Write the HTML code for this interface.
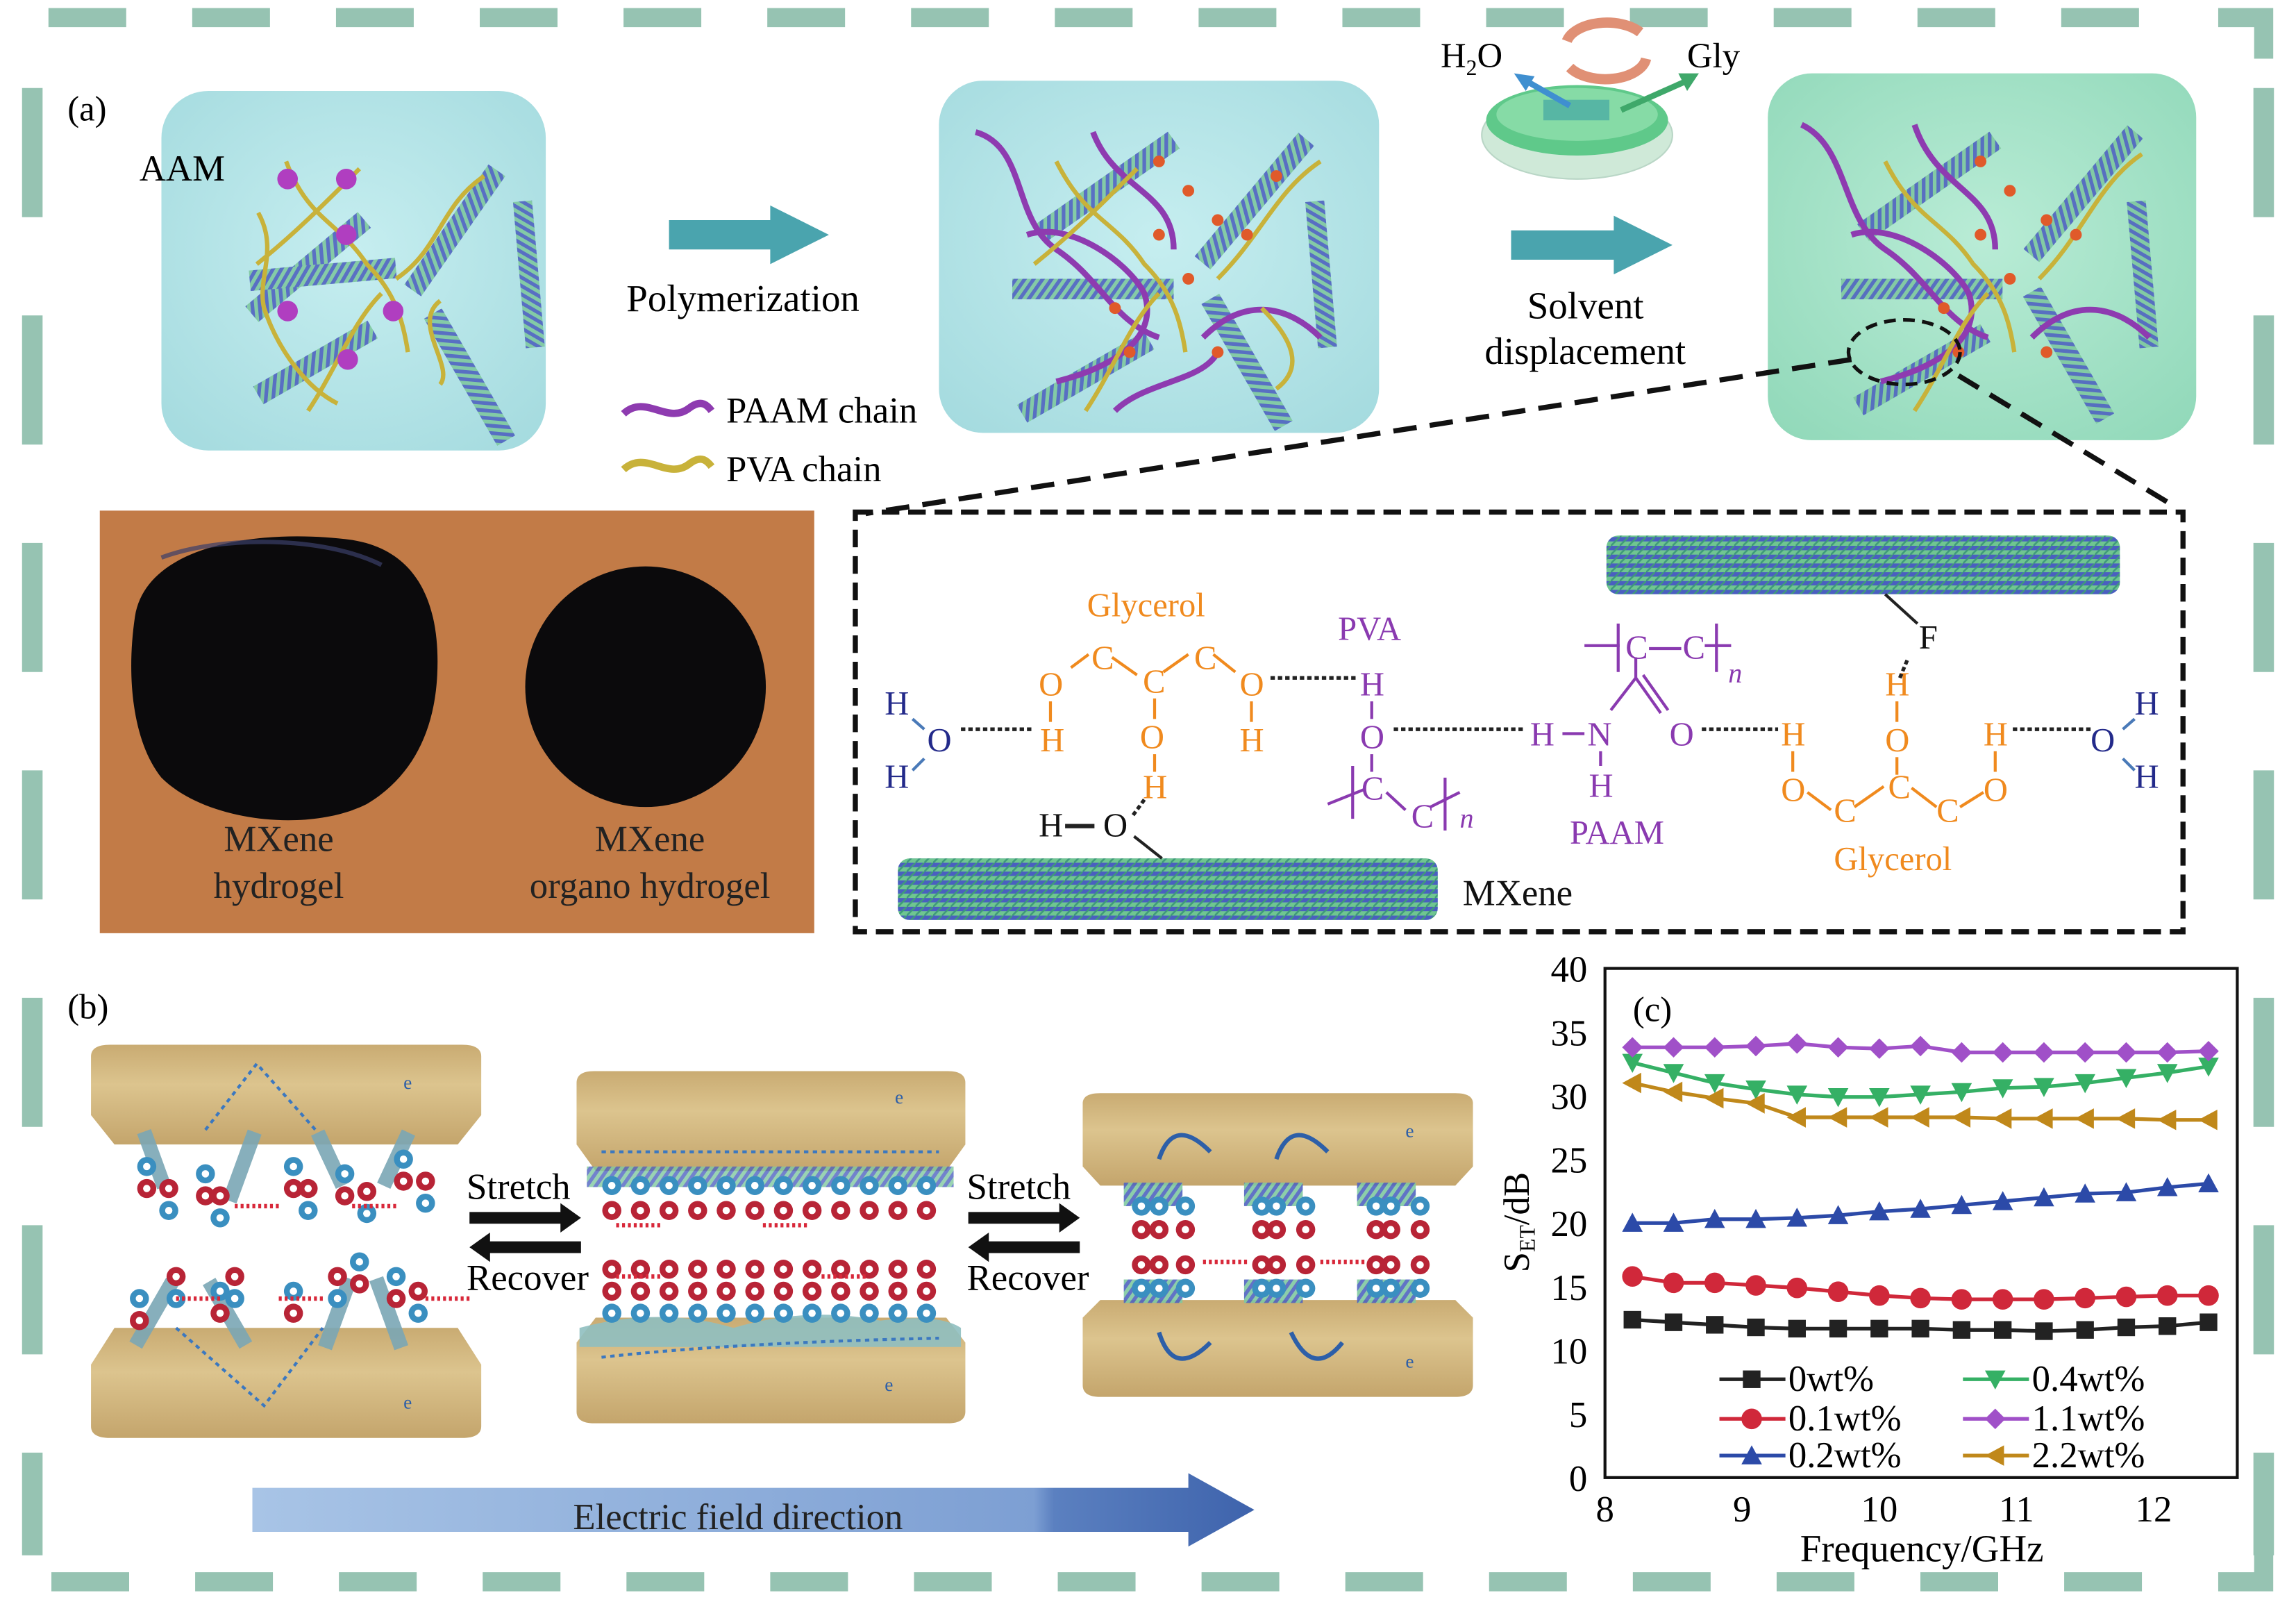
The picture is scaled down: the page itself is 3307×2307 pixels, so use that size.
<!DOCTYPE html>
<html><head><meta charset="utf-8">
<style>
html,body{margin:0;padding:0;background:#fff;}
svg{display:block;}
text{font-family:"Liberation Serif",serif;}
</style></head>
<body>
<svg id="s" xmlns="http://www.w3.org/2000/svg" width="3307" height="2307" viewBox="0 0 1565 1091.8">
<defs>
<pattern id="mx" width="5" height="5" patternUnits="userSpaceOnUse" patternTransform="rotate(35)">
<rect width="5" height="5" fill="#7fc8a0"/><rect width="2.5" height="5" fill="#4f63c0"/>
</pattern>
<pattern id="mx2" width="6" height="6" patternUnits="userSpaceOnUse">
<rect width="6" height="6" fill="#6fc690"/><rect width="6" height="3" fill="#4a5fc0"/><path d="M0 6 L6 0" stroke="#3f9a7a" stroke-width="1.2"/>
</pattern>
<linearGradient id="ef" x1="0" x2="1"><stop offset="0" stop-color="#a8c4e6"/><stop offset="0.78" stop-color="#7d9fd3"/><stop offset="0.8" stop-color="#5b80c0"/><stop offset="1" stop-color="#3e63ac"/></linearGradient>
<linearGradient id="plate" x1="0" y1="0" x2="0" y2="1"><stop offset="0" stop-color="#c9ab72"/><stop offset="0.4" stop-color="#dcc48e"/><stop offset="1" stop-color="#c4a56c"/></linearGradient>
<radialGradient id="cube1" cx="0.5" cy="0.45" r="0.7"><stop offset="0" stop-color="#c6eef0"/><stop offset="1" stop-color="#a5dbdf"/></radialGradient>
<radialGradient id="cube3" cx="0.5" cy="0.45" r="0.7"><stop offset="0" stop-color="#b9ecd6"/><stop offset="1" stop-color="#92d9ba"/></radialGradient>
</defs>

<g stroke="#96c3b2" fill="none">
<line x1="33" y1="12" x2="1500" y2="12" stroke-width="13" stroke-dasharray="53 45"/>
<line x1="22" y1="60" x2="22" y2="1060" stroke-width="14" stroke-dasharray="88 67"/>
<line x1="1543" y1="60" x2="1543" y2="1060" stroke-width="14" stroke-dasharray="88 67"/>
<line x1="35" y1="1078" x2="1500" y2="1078" stroke-width="13" stroke-dasharray="53 45"/>
<path d="M1512 12 H1543 V40" stroke-width="13"/>
<path d="M1512 1078 H1543 V1055" stroke-width="13"/>
</g>

<text x="46" y="82" font-size="24">(a)</text>
<rect x="110" y="62" width="262" height="245" rx="32" fill="url(#cube1)"/>
<rect x="640" y="55" width="300" height="240" rx="30" fill="url(#cube1)"/>
<rect x="1205" y="50" width="292" height="250" rx="30" fill="url(#cube3)"/>
<g>
<g fill="url(#mx)" opacity="0.9">
<rect x="160" y="175" width="100" height="14" transform="rotate(-40 210 182)"/>
<rect x="170" y="180" width="100" height="14" transform="rotate(-5 220 187)"/>
<rect x="260" y="150" width="100" height="14" transform="rotate(-55 310 157)"/>
<rect x="310" y="180" width="100" height="13" transform="rotate(85 360 187)"/>
<rect x="170" y="240" width="90" height="14" transform="rotate(-30 215 247)"/>
<rect x="270" y="250" width="100" height="14" transform="rotate(60 320 257)"/>
</g>
<g stroke="#c8b23a" stroke-width="3" fill="none">
<path d="M195 110 C210 150 230 150 250 180 C270 200 275 220 278 240"/>
<path d="M176 145 C190 170 175 190 180 210 C190 240 210 265 230 275"/>
<path d="M245 115 C220 140 200 160 175 180"/>
<path d="M330 120 C300 140 300 170 270 190"/>
<path d="M260 200 C240 220 230 250 210 280"/>
<path d="M300 205 C280 220 310 250 300 262"/>
</g>
<g fill="#b03ec0">
<circle cx="196" cy="122" r="7"/><circle cx="236" cy="122" r="7"/><circle cx="236" cy="160" r="7"/><circle cx="196" cy="212" r="7"/><circle cx="268" cy="212" r="7"/><circle cx="237" cy="245" r="7"/>
</g>
</g>
<g>
<g fill="url(#mx)" opacity="0.9">
<rect x="700" y="120" width="110" height="14" transform="rotate(-35 755 127)"/>
<rect x="690" y="190" width="110" height="14"/>
<rect x="800" y="130" width="110" height="14" transform="rotate(-50 855 137)"/>
<rect x="850" y="180" width="100" height="13" transform="rotate(85 900 187)"/>
<rect x="690" y="250" width="100" height="14" transform="rotate(-30 740 257)"/>
<rect x="800" y="240" width="100" height="14" transform="rotate(60 850 247)"/>
</g>
<g stroke="#8e3bb0" stroke-width="4" fill="none">
<path d="M665 90 C700 100 690 150 720 170 C750 190 760 220 790 230"/>
<path d="M745 90 C760 130 800 130 800 170"/>
<path d="M700 160 C730 150 770 180 780 200 C790 230 760 250 720 260"/>
<path d="M820 230 C850 200 880 210 900 230"/>
<path d="M760 280 C780 260 820 260 830 240"/>
</g>
<g stroke="#c8b23a" stroke-width="3" fill="none">
<path d="M720 110 C740 150 760 150 780 180 C800 200 805 220 808 240"/>
<path d="M775 115 C750 140 730 160 705 180"/>
<path d="M900 110 C870 130 860 160 830 190"/>
<path d="M790 200 C770 220 760 250 740 280"/>
<path d="M860 210 C880 230 890 250 870 265"/>
</g>
<g fill="#e05a2a">
<circle cx="790" cy="110" r="4"/><circle cx="810" cy="130" r="4"/><circle cx="830" cy="150" r="4"/><circle cx="850" cy="160" r="4"/><circle cx="790" cy="160" r="4"/><circle cx="810" cy="190" r="4"/><circle cx="760" cy="210" r="4"/><circle cx="770" cy="240" r="4"/><circle cx="830" cy="240" r="4"/><circle cx="870" cy="120" r="4"/>
</g>
</g>
<g>
<g fill="url(#mx)" opacity="0.9">
<rect x="1260" y="120" width="110" height="14" transform="rotate(-35 1315 127)"/>
<rect x="1255" y="190" width="110" height="14"/>
<rect x="1365" y="125" width="110" height="14" transform="rotate(-50 1420 132)"/>
<rect x="1410" y="180" width="100" height="13" transform="rotate(85 1460 187)"/>
<rect x="1260" y="245" width="100" height="14" transform="rotate(-30 1310 252)"/>
<rect x="1360" y="235" width="100" height="14" transform="rotate(60 1410 242)"/>
</g>
<g stroke="#8e3bb0" stroke-width="4" fill="none">
<path d="M1228 85 C1260 100 1255 150 1285 170 C1315 190 1325 220 1355 230"/>
<path d="M1305 85 C1320 130 1360 130 1360 170"/>
<path d="M1262 160 C1292 150 1332 180 1342 200 C1352 230 1322 250 1282 260"/>
<path d="M1385 230 C1415 200 1445 210 1465 230"/>
</g>
<g stroke="#c8b23a" stroke-width="3" fill="none">
<path d="M1285 110 C1305 150 1325 150 1345 180 C1365 200 1370 220 1373 240"/>
<path d="M1460 105 C1430 125 1420 160 1390 190"/>
<path d="M1355 200 C1335 220 1325 250 1305 280"/>
</g>
<g fill="#e05a2a">
<circle cx="1350" cy="110" r="4"/><circle cx="1370" cy="130" r="4"/><circle cx="1395" cy="150" r="4"/><circle cx="1415" cy="160" r="4"/><circle cx="1350" cy="160" r="4"/><circle cx="1370" cy="190" r="4"/><circle cx="1325" cy="210" r="4"/><circle cx="1335" cy="240" r="4"/><circle cx="1395" cy="240" r="4"/>
</g>
<ellipse cx="1298" cy="240" rx="38" ry="22" fill="none" stroke="#111" stroke-width="2.5" stroke-dasharray="8 5"/>
</g>
<text x="95" y="123" font-size="25">AAM</text>
<path d="M456 150 H525 V140 L565 160 L525 180 V170 H456 Z" fill="#4aa4ae"/>
<path d="M1030 157 H1100 V147 L1140 167 L1100 187 V177 H1030 Z" fill="#4aa4ae"/>
<text x="427" y="212" font-size="26">Polymerization</text>
<text x="1041" y="217" font-size="26">Solvent</text>
<text x="1012" y="248" font-size="26">displacement</text>
<ellipse cx="1075" cy="92" rx="65" ry="30" fill="#cfe9d8" stroke="#b9d6c6"/>
<ellipse cx="1075" cy="82" rx="62" ry="24" fill="#5fc98a"/>
<ellipse cx="1075" cy="78" rx="55" ry="18" fill="#86dba6"/>
<rect x="1052" y="68" width="45" height="14" fill="#57b6a4"/>
<path d="M1070 72 L1040 55" stroke="#3f8fd0" stroke-width="4"/><path d="M1032 50 L1046 52 L1040 62 Z" fill="#3f8fd0"/>
<path d="M1105 75 L1150 55" stroke="#3fa86a" stroke-width="4"/><path d="M1158 50 L1144 50 L1150 62 Z" fill="#3fa86a"/>
<path d="M1068 28 A28 16 0 0 1 1118 22" stroke="#e09075" stroke-width="7" fill="none"/>
<path d="M1122 40 A28 16 0 0 1 1070 46" stroke="#e09075" stroke-width="7" fill="none"/>
<text x="982" y="46" font-size="24">H<tspan font-size="15" dy="5">2</tspan><tspan dy="-5">O</tspan></text>
<text x="1150" y="46" font-size="24">Gly</text>
<path d="M425 282 C440 268 455 290 470 278 C478 272 482 276 485 280" stroke="#8e3bb0" stroke-width="5" fill="none"/>
<path d="M425 320 C440 306 455 328 470 316 C478 310 482 314 485 318" stroke="#c8b23a" stroke-width="5" fill="none"/>
<text x="495" y="288" font-size="25">PAAM chain</text>
<text x="495" y="328" font-size="25">PVA chain</text>
<line x1="1262" y1="245" x2="590" y2="350" stroke="#111" stroke-width="3.5" stroke-dasharray="16 9"/>
<line x1="1335" y1="256" x2="1482" y2="345" stroke="#111" stroke-width="3.5" stroke-dasharray="16 9"/>

<rect x="68" y="348" width="487" height="288" fill="#c27b47"/>
<path d="M92 420 C100 370 180 360 240 368 C290 376 300 420 298 460 C296 500 280 530 250 548 C210 568 140 560 110 530 C90 505 86 460 92 420 Z" fill="#0b0a0c"/>
<path d="M110 380 C150 365 220 365 260 385" stroke="#3a3f6a" stroke-width="3" fill="none" opacity="0.7"/>
<circle cx="440" cy="468" r="82" fill="#0b0a0c"/>
<g font-size="25" fill="#222" text-anchor="middle">
<text x="190" y="580">MXene</text><text x="190" y="612">hydrogel</text>
<text x="443" y="580">MXene</text><text x="443" y="612">organo hydrogel</text>
</g>

<rect x="583" y="349" width="905" height="286" fill="none" stroke="#111" stroke-width="3.5" stroke-dasharray="12 6"/>
<rect x="1095" y="365" width="350" height="40" fill="url(#mx2)" rx="8"/>
<rect x="612" y="585" width="368" height="42" fill="url(#mx2)" rx="8"/>
<g font-size="23">
<g fill="#f08a1e">
<text x="741" y="420">Glycerol</text>
<text x="744" y="456">C</text><text x="814" y="456">C</text><text x="779" y="472">C</text>
<text x="708" y="474">O</text><text x="845" y="474">O</text>
<text x="709" y="512">H</text><text x="845" y="512">H</text><text x="777" y="510">O</text><text x="779" y="544">H</text>
<text x="1214" y="508">H</text><text x="1214" y="546">O</text><text x="1250" y="560">C</text><text x="1287" y="544">C</text><text x="1320" y="560">C</text><text x="1352" y="546">O</text><text x="1352" y="508">H</text><text x="1285" y="512">O</text><text x="1285" y="474">H</text>
<text x="1250" y="593">Glycerol</text>
</g>
<g stroke="#f08a1e" stroke-width="2">
<line x1="730" y1="455" x2="742" y2="446"/><line x1="758" y1="448" x2="775" y2="460"/><line x1="793" y1="458" x2="810" y2="446"/><line x1="827" y1="446" x2="842" y2="458"/>
<line x1="716" y1="478" x2="716" y2="492"/><line x1="853" y1="478" x2="853" y2="492"/><line x1="787" y1="476" x2="787" y2="490"/><line x1="787" y1="514" x2="787" y2="526"/>
<line x1="1222" y1="512" x2="1222" y2="526"/><line x1="1232" y1="540" x2="1248" y2="552"/><line x1="1264" y1="550" x2="1284" y2="536"/><line x1="1303" y1="537" x2="1320" y2="550"/><line x1="1336" y1="550" x2="1352" y2="540"/><line x1="1360" y1="512" x2="1360" y2="526"/><line x1="1293" y1="516" x2="1293" y2="528"/><line x1="1293" y1="478" x2="1293" y2="492"/>
</g>
<g fill="#8a3ab0">
<text x="912" y="436">PVA</text><text x="927" y="474">H</text><text x="927" y="510">O</text><text x="928" y="545">C</text><text x="962" y="564">C</text><text x="995" y="564" font-style="italic" font-size="19">n</text>
<text x="1043" y="508">H</text><text x="1082" y="508">N</text><text x="1138" y="508">O</text><text x="1083" y="543">H</text>
<text x="1108" y="449">C</text><text x="1147" y="449">C</text><text x="1178" y="465" font-style="italic" font-size="19">n</text>
<text x="1070" y="575">PAAM</text>
</g>
<g stroke="#8a3ab0" stroke-width="2" fill="none">
<line x1="935" y1="478" x2="935" y2="490"/><line x1="935" y1="514" x2="935" y2="526"/><line x1="945" y1="540" x2="958" y2="552"/>
<line x1="922" y1="522" x2="922" y2="558"/><line x1="905" y1="548" x2="930" y2="538"/><line x1="985" y1="530" x2="985" y2="566"/><line x1="975" y1="550" x2="995" y2="540"/>
<line x1="1065" y1="500" x2="1080" y2="500"/><line x1="1091" y1="512" x2="1091" y2="522"/>
<line x1="1098" y1="484" x2="1115" y2="462"/><line x1="1115" y1="462" x2="1132" y2="486"/><line x1="1120" y1="460" x2="1137" y2="484"/><line x1="1115" y1="448" x2="1115" y2="462"/>
<line x1="1124" y1="442" x2="1146" y2="442"/><line x1="1080" y1="440" x2="1104" y2="440"/><line x1="1162" y1="440" x2="1180" y2="440"/><line x1="1103" y1="425" x2="1103" y2="458"/><line x1="1170" y1="425" x2="1170" y2="458"/>
</g>
<g fill="#232a8a">
<text x="603" y="487">H</text><text x="632" y="512">O</text><text x="603" y="537">H</text>
<text x="1455" y="487">H</text><text x="1425" y="512">O</text><text x="1455" y="537">H</text>
</g>
<g fill="#111"><text x="1308" y="442">F</text><text x="708" y="570">H</text><text x="752" y="570">O</text><text x="997" y="617" font-size="25">MXene</text></g>
<g stroke="#4a7ab8" stroke-width="2"><line x1="622" y1="490" x2="630" y2="497"/><line x1="622" y1="525" x2="630" y2="517"/><line x1="1455" y1="490" x2="1447" y2="497"/><line x1="1455" y1="525" x2="1447" y2="517"/></g>
<g stroke="#222" stroke-width="2.5" stroke-dasharray="3 2" fill="none">
<line x1="655" y1="497" x2="705" y2="497"/><line x1="866" y1="462" x2="925" y2="462"/><line x1="950" y1="497" x2="1040" y2="497"/><line x1="1160" y1="497" x2="1212" y2="497"/><line x1="1372" y1="497" x2="1425" y2="497"/>
<line x1="1300" y1="450" x2="1295" y2="462"/><line x1="780" y1="545" x2="772" y2="556"/>
</g>
<line x1="1285" y1="405" x2="1307" y2="425" stroke="#222" stroke-width="2"/>
<line x1="726" y1="563" x2="746" y2="563" stroke="#222" stroke-width="3"/>
<line x1="773" y1="570" x2="792" y2="585" stroke="#222" stroke-width="2"/>
</g>

<text x="46" y="694" font-size="24">(b)</text>
<g>
<path d="M62 720 Q62 712 75 712 H315 Q328 712 328 720 V760 L312 780 H78 L62 760 Z" fill="url(#plate)"/>
<path d="M62 930 L78 905 H312 L328 930 V972 Q328 980 315 980 H75 Q62 980 62 972 Z" fill="url(#plate)"/>
<path d="M393 738 Q393 730 405 730 H646 Q658 730 658 738 V780 L645 798 H406 L393 780 Z" fill="url(#plate)"/>
<path d="M393 915 L406 898 H645 L658 915 V962 Q658 970 646 970 H405 Q393 970 393 962 Z" fill="url(#plate)"/>
<rect x="400" y="795" width="250" height="14" fill="url(#mx)" opacity="0.8"/>
<path d="M395 905 Q450 890 500 905 Q550 890 600 900 Q640 895 655 905 V918 H395 Z" fill="#8fbfc0" opacity="0.9"/>
<path d="M738 752 Q738 745 750 745 H992 Q1004 745 1004 752 V795 L992 808 H750 L738 795 Z" fill="url(#plate)"/>
<path d="M738 898 L750 886 H992 L1004 898 V944 Q1004 952 992 952 H750 Q738 952 738 944 Z" fill="url(#plate)"/>
<g fill="url(#mx)" opacity="0.9"><rect x="766" y="806" width="40" height="16"/><rect x="848" y="806" width="40" height="16"/><rect x="925" y="806" width="40" height="16"/><rect x="766" y="872" width="40" height="16"/><rect x="848" y="872" width="40" height="16"/><rect x="925" y="872" width="40" height="16"/></g>
<g stroke="#2d5fa8" stroke-width="3" fill="none"><path d="M790 790 Q800 760 825 785"/><path d="M870 790 Q880 760 905 785"/><path d="M790 908 Q800 940 825 915"/><path d="M880 908 Q895 940 915 915"/></g>
<g fill="#7ba7b5" opacity="0.9"><rect x="100" y="770" width="10" height="40" transform="rotate(-20 105 790)"/><rect x="160" y="770" width="10" height="50" transform="rotate(20 165 795)"/><rect x="220" y="770" width="10" height="40" transform="rotate(-25 225 790)"/><rect x="265" y="770" width="10" height="40" transform="rotate(25 270 790)"/>
<rect x="100" y="870" width="10" height="50" transform="rotate(30 105 895)"/><rect x="150" y="870" width="10" height="50" transform="rotate(-30 155 895)"/><rect x="225" y="870" width="10" height="50" transform="rotate(20 230 895)"/><rect x="260" y="870" width="10" height="50" transform="rotate(-20 265 895)"/></g>
<g fill="#2d5fa8" font-family="Liberation Sans,sans-serif" font-size="13"><text x="275" y="742">e</text><text x="275" y="960">e</text><text x="610" y="752">e</text><text x="603" y="948">e</text><text x="958" y="775">e</text><text x="958" y="932">e</text></g>
<g stroke="#3b78c0" stroke-width="2" stroke-dasharray="3 3" fill="none"><path d="M140 770 L175 725 L215 770"/><path d="M120 905 L180 958 L220 905"/><path d="M410 785 H640"/><path d="M410 925 Q500 915 640 912"/></g>
<g id="ions"></g>
</g>
<g font-size="25"><text x="318" y="817">Stretch</text><text x="318" y="879">Recover</text><text x="659" y="817">Stretch</text><text x="659" y="879">Recover</text></g>
<g fill="#111">
<path d="M320 826 H382 V820 L396 830 L382 840 V834 H320 Z"/><path d="M396 846 H334 V840 L320 850 L334 860 V854 H396 Z"/>
<path d="M660 826 H722 V820 L736 830 L722 840 V834 H660 Z"/><path d="M736 846 H674 V840 L660 850 L674 860 V854 H736 Z"/>
</g>
<path d="M172 1014 H810 V1004 L855 1029 L810 1054 V1044 H172 Z" fill="url(#ef)"/>
<text x="503" y="1042" font-size="25" text-anchor="middle" fill="#222">Electric field direction</text>

<rect x="1094" y="660" width="431" height="347" fill="none" stroke="#111" stroke-width="2"/>
<g font-size="25" text-anchor="end" id="yl"></g>
<g font-size="25" text-anchor="middle" id="xl"></g>
<text x="1113" y="696" font-size="24">(c)</text>
<text transform="translate(1042 833) rotate(-90)" font-size="25" text-anchor="middle">S<tspan font-size="15" dy="4">ET</tspan><tspan dy="-4">/dB</tspan></text>
<text x="1310" y="1064" font-size="26" text-anchor="middle">Frequency/GHz</text>
<g id="series"></g>
<g id="leg" font-size="25"></g>
</svg>
<script>
var NS="http://www.w3.org/2000/svg";
function el(p,t,a,txt){var e=document.createElementNS(NS,t);for(var k in a)e.setAttribute(k,a[k]);if(txt!=null)e.textContent=txt;document.getElementById(p).appendChild(e);return e;}
var X0=1094,XS=93.5,Y0=1007,YS=8.675;
for(var v=0;v<=40;v+=5)el("yl","text",{x:1082,y:Y0-v*YS+9},""+v);
for(var f=8;f<=12;f++)el("xl","text",{x:X0+(f-8)*XS,y:1037},""+f);
var data=[
["#222",[12.4,12.2,12.0,11.8,11.7,11.7,11.7,11.7,11.6,11.6,11.5,11.6,11.8,11.9,12.2],"sq","0wt%"],
["#d0283a",[15.8,15.3,15.3,15.1,14.9,14.6,14.3,14.1,14.0,14.0,14.0,14.1,14.2,14.3,14.3],"ci","0.1wt%"],
["#2c4aa8",[20,20,20.3,20.3,20.4,20.6,20.9,21.1,21.4,21.7,22,22.3,22.4,22.8,23.1],"tu","0.2wt%"],
["#35b065",[32.6,31.8,31,30.5,30.1,29.9,29.9,30.1,30.3,30.6,30.7,31,31.4,31.8,32.3],"td","0.4wt%"],
["#a050c8",[33.8,33.8,33.8,33.9,34.1,33.8,33.7,33.9,33.4,33.4,33.4,33.4,33.4,33.4,33.5],"di","1.1wt%"],
["#c0881a",[31,30.3,29.8,29.4,28.3,28.3,28.3,28.3,28.3,28.2,28.2,28.2,28.2,28.1,28.1],"tl","2.2wt%"]];
function mk(g,t,x,y,c){var s=6;
if(t=="sq")el(g,"rect",{x:x-s,y:y-s,width:2*s,height:2*s,fill:c});
else if(t=="ci")el(g,"circle",{cx:x,cy:y,r:s+1,fill:c});
else{var p;if(t=="tu")p=[[x,y-s-1],[x+s+1,y+s],[x-s-1,y+s]];else if(t=="td")p=[[x,y+s+1],[x+s+1,y-s],[x-s-1,y-s]];else if(t=="di")p=[[x,y-s-1],[x+s+1,y],[x,y+s+1],[x-s-1,y]];else p=[[x-s-1,y],[x+s,y-s-1],[x+s,y+s+1]];
el(g,"polygon",{points:p.map(function(q){return q.join(",")}).join(" "),fill:c});}}
data.forEach(function(d){var pts=d[1].map(function(v,i){return [X0+(0.2+0.3*i)*XS,Y0-v*YS];});
el("series","polyline",{points:pts.map(function(q){return q.join(",")}).join(" "),fill:"none",stroke:d[0],"stroke-width":2.5});
pts.forEach(function(q){mk("series",d[2],q[0],q[1],d[0]);});});
var lp=[[1172,940],[1172,967],[1172,992],[1338,940],[1338,967],[1338,992]];
data.forEach(function(d,i){var x=lp[i][0],y=lp[i][1];el("leg","line",{x1:x,y1:y,x2:x+45,y2:y,stroke:d[0],"stroke-width":2.5});mk("leg",d[2],x+22,y,d[0]);el("leg","text",{x:x+47,y:y+8},d[3]);});
function ion(x,y,neg){el("ions","circle",{cx:x,cy:y,r:6.5,fill:neg?"#3a8fc0":"#b82436"});el("ions","circle",{cx:x,cy:y,r:2.5,fill:"#fff"});}
var i;
for(i=0;i<12;i++){var x=417+i*19.5;ion(x,808,1);ion(x,825,0);ion(x,865,0);ion(x,880,0);ion(x,895,1);}
[[778,790,808],[860,870,890],[938,948,968]].forEach(function(c){c.forEach(function(x){ion(x,822,1);ion(x,838,0);ion(x,862,0);ion(x,878,1);});});
[[100,795],[115,810],[140,800],[150,815],[200,795],[210,810],[235,800],[250,812],[275,790],[290,805],[95,885],[120,870],[150,880],[160,870],[200,880],[230,870],[270,870],[285,880],[245,860]].forEach(function(p,k){ion(p[0],p[1],k%2==0);ion(p[0],p[1]+15,k%2==1);});
[[160,822],[240,822],[120,885],[190,885],[290,885],[420,835],[520,835],[420,870],[560,870],[820,860],[900,860]].forEach(function(p){el("ions","line",{x1:p[0],y1:p[1],x2:p[0]+30,y2:p[1],stroke:"#d8283a","stroke-width":3,"stroke-dasharray":"2 2"});});
</script>
</body></html>
